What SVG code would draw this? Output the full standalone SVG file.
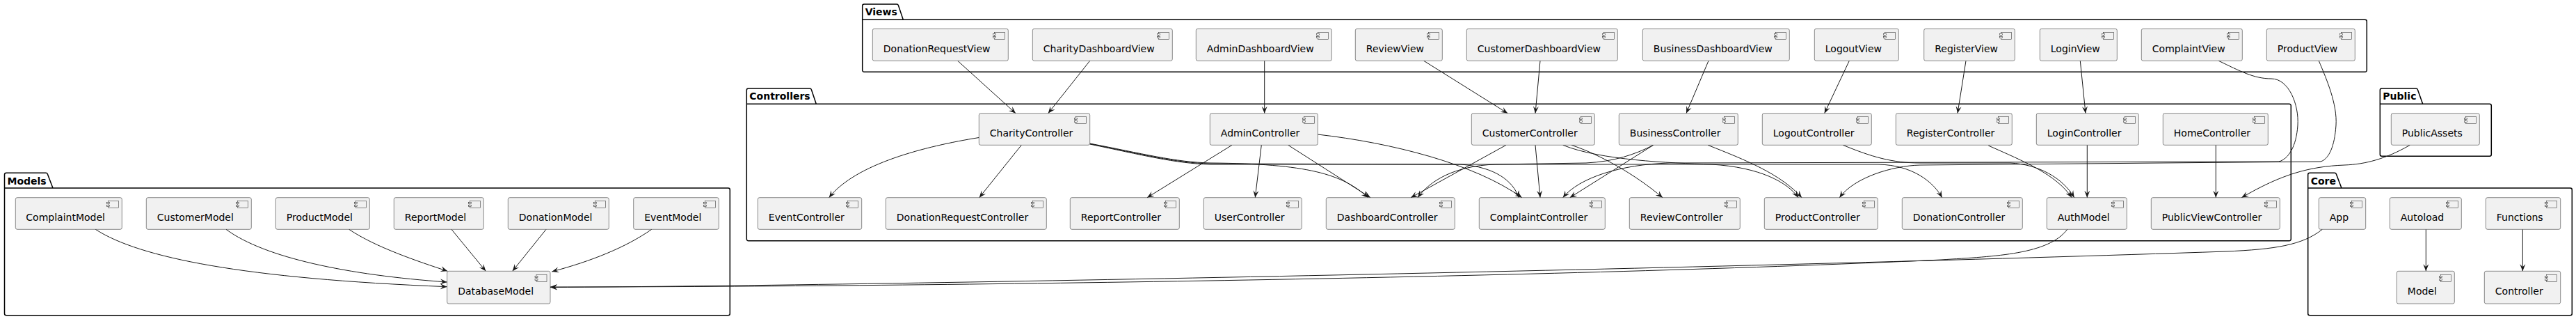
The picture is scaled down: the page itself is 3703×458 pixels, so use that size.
<svg xmlns="http://www.w3.org/2000/svg" width="3703" height="458" viewBox="0 0 3703 458">
<defs>
<style>
.pkg{fill:none;stroke:#000;stroke-width:1.5}
.pl{font-family:"DejaVu Sans",sans-serif;font-size:14px;font-weight:bold;fill:#000}
.n rect{fill:#F1F1F1;stroke:#181818;stroke-width:0.5}
.n text{font-family:"DejaVu Sans",sans-serif;font-size:14px;fill:#000}
.e path{fill:none;stroke:#181818;stroke-width:1}
</style>
<marker id="ah" viewBox="0 0 10 10" refX="10" refY="5" markerWidth="10" markerHeight="10" markerUnits="userSpaceOnUse" orient="auto">
<path d="M0,1 L10,5 L0,9 L4,5 Z" fill="#181818"/>
</marker>
<g id="ic" fill="#F1F1F1" stroke="#181818" stroke-width="0.5"><rect x="-20" y="5" width="15" height="10"/><rect x="-22" y="7" width="4" height="2"/><rect x="-22" y="11" width="4" height="2"/></g>
</defs>
<rect width="3703" height="458" fill="#fff"/>

<!-- packages -->
<g id="pkg-models">
<path class="pkg" d="M6.5,250.8 A2.5,2.5 0 0 1 9,248.3 L66,248.3 A2.5,2.5 0 0 1 68.4,250.1 L76,270 L1046.8,270 A2.5,2.5 0 0 1 1049.3,272.5 L1049.3,450.2 A2.5,2.5 0 0 1 1046.8,452.7 L9,452.7 A2.5,2.5 0 0 1 6.5,450.2 Z M6.5,270 L76,270"/>
<text class="pl" x="10.5" y="264.5">Models</text>
</g>
<g id="pkg-views">
<path class="pkg" d="M1239.7,8.5 A2.5,2.5 0 0 1 1242.2,6 L1289,6 A2.5,2.5 0 0 1 1291.4,7.8 L1298.3,28.3 L3399.8,28.3 A2.5,2.5 0 0 1 3402.3,30.8 L3402.3,100.8 A2.5,2.5 0 0 1 3399.8,103.3 L1242.2,103.3 A2.5,2.5 0 0 1 1239.7,100.8 Z M1239.7,28.3 L1298.3,28.3"/>
<text class="pl" x="1243.7" y="22.3">Views</text>
</g>
<g id="pkg-controllers">
<path class="pkg" d="M1073.3,129.5 A2.5,2.5 0 0 1 1075.8,127 L1164,127 A2.5,2.5 0 0 1 1166.4,128.8 L1173.3,149.3 L3290.8,149.3 A2.5,2.5 0 0 1 3293.3,151.8 L3293.3,343.2 A2.5,2.5 0 0 1 3290.8,345.7 L1075.8,345.7 A2.5,2.5 0 0 1 1073.3,343.2 Z M1073.3,149.3 L1173.3,149.3"/>
<text class="pl" x="1077.3" y="143.3">Controllers</text>
</g>
<g id="pkg-public">
<path class="pkg" d="M3421.3,129.5 A2.5,2.5 0 0 1 3423.8,127 L3473,127 A2.5,2.5 0 0 1 3475.4,128.8 L3482.7,149.3 L3578.8,149.3 A2.5,2.5 0 0 1 3581.3,151.8 L3581.3,221.8 A2.5,2.5 0 0 1 3578.8,224.3 L3423.8,224.3 A2.5,2.5 0 0 1 3421.3,221.8 Z M3421.3,149.3 L3482.7,149.3"/>
<text class="pl" x="3425.3" y="143.3">Public</text>
</g>
<g id="pkg-core">
<path class="pkg" d="M3317.7,250.8 A2.5,2.5 0 0 1 3320.2,248.3 L3356,248.3 A2.5,2.5 0 0 1 3358.4,250.1 L3366,270 L3694.8,270 A2.5,2.5 0 0 1 3697.3,272.5 L3697.3,450.2 A2.5,2.5 0 0 1 3694.8,452.7 L3320.2,452.7 A2.5,2.5 0 0 1 3317.7,450.2 Z M3317.7,270 L3366,270"/>
<text class="pl" x="3321.7" y="264.5">Core</text>
</g>

<!-- connectors -->
<g class="e" id="connectors" marker-end="url(#ah)">
<path d="M1376.7,87.3 L1460,162.7"/>
<path d="M1566.7,87.3 L1506.7,162.7"/>
<path d="M1817.7,87.3 L1817.7,162.7"/>
<path d="M2046.7,87.3 L2167.3,162.7"/>
<path d="M2214,87.3 L2207,162.7"/>
<path d="M2456,87.3 L2424,162.7"/>
<path d="M2658.3,87.3 L2622.7,162.7"/>
<path d="M2826,87.3 L2814,162.7"/>
<path d="M2990.3,87.3 L2998,162.7"/>
<path d="M3189.3,87.3 C3220,102 3240,113 3265,113 C3290,113 3305,150 3303,180 C3301,210 3290,228 3276,232 L2400,234 C2330,236 2270,255 2246.7,283.7"/>
<path d="M3333.3,87.3 C3345,115 3360,150 3358,180 C3356,210 3348,228 3336,232 L2760,237 C2720,238 2665,255 2644.3,283.7"/>
<path d="M1407.3,197.5 C1330,210 1230,235 1191.7,283.7"/>
<path d="M1468.3,208.3 L1407.7,283.7"/>
<path d="M1566.7,206 C1640,220 1690,233 1740,234 C1880,235 1930,250 1966.7,283.7"/>
<path d="M1566.7,206.5 C1640,221 1690,234 1740,235 L2100,236 C2150,240 2175,260 2183.3,283.7"/>
<path d="M1566.7,207 C1640,222 1690,235 1740,236 L2700,236 C2750,237 2780,262 2791.7,283.7"/>
<path d="M1771,208.3 L1649,283.7"/>
<path d="M1813.3,208.3 L1804.3,283.7"/>
<path d="M1851.7,208.3 L1970,283.7"/>
<path d="M1894.3,193 C2000,205 2120,235 2187.7,283.7"/>
<path d="M2165,208.3 L2028,283.7"/>
<path d="M2207,208.3 L2214,283.7"/>
<path d="M2259,208.3 C2300,222 2350,250 2390,283.7"/>
<path d="M2246.7,208.3 C2300,230 2400,234 2460,236 C2530,240 2570,262 2585,283.7"/>
<path d="M2376.7,208.3 C2350,222 2320,232 2280,234 L2150,236 C2090,238 2055,260 2038,283.7"/>
<path d="M2376.7,208.3 L2256.7,283.7"/>
<path d="M2455,208.3 C2510,230 2560,250 2590,283.7"/>
<path d="M2649.3,208.3 C2690,225 2720,234 2760,234 L2890,234 C2930,236 2965,255 2981.7,283.7"/>
<path d="M2858.3,209 C2910,232 2955,250 2978.3,283.7"/>
<path d="M3000.3,208.3 L3000.3,283.7"/>
<path d="M3185.3,208.3 L3185.3,283.7"/>
<path d="M3464.3,208.3 C3430,228 3400,236 3370,237 C3320,239 3280,250 3222.3,283.7"/>
<path d="M2971.7,329.3 C2945,365 2870,368 2790,373 C2200,400 1300,412 791,412"/>
<path d="M3338.3,329.3 C3310,352 3270,358 3200,361 C2500,385 1300,410 791,412.5"/>
<path d="M3487.3,329.3 L3487.3,389.3"/>
<path d="M3626.3,329.3 L3626.3,389.3"/>
<path d="M137.3,329.3 C200,370 350,400 642.7,411.7"/>
<path d="M325,329.3 C380,370 500,395 642.7,405"/>
<path d="M501.7,329.3 C540,355 600,375 643.3,389.3"/>
<path d="M649,329.3 L698.3,389.3"/>
<path d="M785,329.3 L736.7,389.3"/>
<path d="M936.7,329.3 C900,355 850,375 793.3,390"/>
</g>

<!-- nodes: views -->
<g class="n" id="DonationRequestView"><rect x="1254.3" y="41.3" width="195" height="46" rx="2.5"/><use href="#ic" x="1449.3" y="41.3"/><text x="1269.8" y="75">DonationRequestView</text></g>
<g class="n" id="CharityDashboardView"><rect x="1484.3" y="41.3" width="201" height="46" rx="2.5"/><use href="#ic" x="1685.3" y="41.3"/><text x="1499.8" y="75">CharityDashboardView</text></g>
<g class="n" id="AdminDashboardView"><rect x="1719.3" y="41.3" width="195" height="46" rx="2.5"/><use href="#ic" x="1914.3" y="41.3"/><text x="1734.8" y="75">AdminDashboardView</text></g>
<g class="n" id="ReviewView"><rect x="1948.3" y="41.3" width="125" height="46" rx="2.5"/><use href="#ic" x="2073.3" y="41.3"/><text x="1963.8" y="75">ReviewView</text></g>
<g class="n" id="CustomerDashboardView"><rect x="2108.3" y="41.3" width="217" height="46" rx="2.5"/><use href="#ic" x="2325.3" y="41.3"/><text x="2123.8" y="75">CustomerDashboardView</text></g>
<g class="n" id="BusinessDashboardView"><rect x="2361.3" y="41.3" width="211" height="46" rx="2.5"/><use href="#ic" x="2572.3" y="41.3"/><text x="2376.8" y="75">BusinessDashboardView</text></g>
<g class="n" id="LogoutView"><rect x="2608.3" y="41.3" width="121" height="46" rx="2.5"/><use href="#ic" x="2729.3" y="41.3"/><text x="2623.8" y="75">LogoutView</text></g>
<g class="n" id="RegisterView"><rect x="2765.7" y="41.3" width="130.6" height="46" rx="2.5"/><use href="#ic" x="2896.3" y="41.3"/><text x="2781.2" y="75">RegisterView</text></g>
<g class="n" id="LoginView"><rect x="2932.3" y="41.3" width="111" height="46" rx="2.5"/><use href="#ic" x="3043.3" y="41.3"/><text x="2947.8" y="75">LoginView</text></g>
<g class="n" id="ComplaintView"><rect x="3078.3" y="41.3" width="145" height="46" rx="2.5"/><use href="#ic" x="3223.3" y="41.3"/><text x="3093.8" y="75">ComplaintView</text></g>
<g class="n" id="ProductView"><rect x="3258.3" y="41.3" width="127" height="46" rx="2.5"/><use href="#ic" x="3385.3" y="41.3"/><text x="3273.8" y="75">ProductView</text></g>

<!-- controllers row 1 -->
<g class="n" id="CharityController"><rect x="1407.3" y="162.7" width="159.4" height="45.6" rx="2.5"/><use href="#ic" x="1566.7" y="162.7"/><text x="1422.8" y="196.3">CharityController</text></g>
<g class="n" id="AdminController"><rect x="1739.3" y="162.7" width="155" height="45.6" rx="2.5"/><use href="#ic" x="1894.3" y="162.7"/><text x="1754.8" y="196.3">AdminController</text></g>
<g class="n" id="CustomerController"><rect x="2115.3" y="162.7" width="177" height="45.6" rx="2.5"/><use href="#ic" x="2292.3" y="162.7"/><text x="2130.8" y="196.3">CustomerController</text></g>
<g class="n" id="BusinessController"><rect x="2327.3" y="162.7" width="171" height="45.6" rx="2.5"/><use href="#ic" x="2498.3" y="162.7"/><text x="2342.8" y="196.3">BusinessController</text></g>
<g class="n" id="LogoutController"><rect x="2533.3" y="162.7" width="157" height="45.6" rx="2.5"/><use href="#ic" x="2690.3" y="162.7"/><text x="2548.8" y="196.3">LogoutController</text></g>
<g class="n" id="RegisterController"><rect x="2725.3" y="162.7" width="167" height="45.6" rx="2.5"/><use href="#ic" x="2892.3" y="162.7"/><text x="2740.8" y="196.3">RegisterController</text></g>
<g class="n" id="LoginController"><rect x="2927.3" y="162.7" width="147" height="45.6" rx="2.5"/><use href="#ic" x="3074.3" y="162.7"/><text x="2942.8" y="196.3">LoginController</text></g>
<g class="n" id="HomeController"><rect x="3109.3" y="162.7" width="151" height="45.6" rx="2.5"/><use href="#ic" x="3260.3" y="162.7"/><text x="3124.8" y="196.3">HomeController</text></g>
<g class="n" id="PublicAssets"><rect x="3437.3" y="162.7" width="127" height="45.6" rx="2.5"/><use href="#ic" x="3564.3" y="162.7"/><text x="3452.8" y="196.3">PublicAssets</text></g>

<!-- row 2 -->
<g class="n" id="ComplaintModel"><rect x="22.3" y="283.7" width="153" height="45.6" rx="2.5"/><use href="#ic" x="175.3" y="283.7"/><text x="37.3" y="317.3">ComplaintModel</text></g>
<g class="n" id="CustomerModel"><rect x="210.3" y="283.7" width="151" height="45.6" rx="2.5"/><use href="#ic" x="361.3" y="283.7"/><text x="225.8" y="317.3">CustomerModel</text></g>
<g class="n" id="ProductModel"><rect x="396.3" y="283.7" width="135" height="45.6" rx="2.5"/><use href="#ic" x="531.3" y="283.7"/><text x="411.8" y="317.3">ProductModel</text></g>
<g class="n" id="ReportModel"><rect x="566.3" y="283.7" width="129" height="45.6" rx="2.5"/><use href="#ic" x="695.3" y="283.7"/><text x="581.8" y="317.3">ReportModel</text></g>
<g class="n" id="DonationModel"><rect x="730.3" y="283.7" width="145" height="45.6" rx="2.5"/><use href="#ic" x="875.3" y="283.7"/><text x="745.8" y="317.3">DonationModel</text></g>
<g class="n" id="EventModel"><rect x="910.7" y="283.7" width="122.6" height="45.6" rx="2.5"/><use href="#ic" x="1033.3" y="283.7"/><text x="926.2" y="317.3">EventModel</text></g>
<g class="n" id="EventController"><rect x="1089.3" y="283.7" width="149.4" height="45.6" rx="2.5"/><use href="#ic" x="1238.7" y="283.7"/><text x="1104.8" y="317.3">EventController</text></g>
<g class="n" id="DonationRequestController"><rect x="1273.3" y="283.7" width="231" height="45.6" rx="2.5"/><use href="#ic" x="1504.3" y="283.7"/><text x="1288.8" y="317.3">DonationRequestController</text></g>
<g class="n" id="ReportController"><rect x="1538.3" y="283.7" width="157" height="45.6" rx="2.5"/><use href="#ic" x="1695.3" y="283.7"/><text x="1553.8" y="317.3">ReportController</text></g>
<g class="n" id="UserController"><rect x="1730.3" y="283.7" width="141" height="45.6" rx="2.5"/><use href="#ic" x="1871.3" y="283.7"/><text x="1745.8" y="317.3">UserController</text></g>
<g class="n" id="DashboardController"><rect x="1906.3" y="283.7" width="185" height="45.6" rx="2.5"/><use href="#ic" x="2091.3" y="283.7"/><text x="1921.8" y="317.3">DashboardController</text></g>
<g class="n" id="ComplaintController"><rect x="2126.3" y="283.7" width="181" height="45.6" rx="2.5"/><use href="#ic" x="2307.3" y="283.7"/><text x="2141.8" y="317.3">ComplaintController</text></g>
<g class="n" id="ReviewController"><rect x="2342.3" y="283.7" width="159" height="45.6" rx="2.5"/><use href="#ic" x="2501.3" y="283.7"/><text x="2357.8" y="317.3">ReviewController</text></g>
<g class="n" id="ProductController"><rect x="2536.3" y="283.7" width="163" height="45.6" rx="2.5"/><use href="#ic" x="2699.3" y="283.7"/><text x="2551.8" y="317.3">ProductController</text></g>
<g class="n" id="DonationController"><rect x="2734.3" y="283.7" width="173" height="45.6" rx="2.5"/><use href="#ic" x="2907.3" y="283.7"/><text x="2749.8" y="317.3">DonationController</text></g>
<g class="n" id="AuthModel"><rect x="2942.3" y="283.7" width="115" height="45.6" rx="2.5"/><use href="#ic" x="3057.3" y="283.7"/><text x="2957.8" y="317.3">AuthModel</text></g>
<g class="n" id="PublicViewController"><rect x="3092.3" y="283.7" width="185" height="45.6" rx="2.5"/><use href="#ic" x="3277.3" y="283.7"/><text x="3107.8" y="317.3">PublicViewController</text></g>
<g class="n" id="App"><rect x="3333.3" y="283.7" width="67.4" height="45.6" rx="2.5"/><use href="#ic" x="3400.7" y="283.7"/><text x="3348.8" y="317.3">App</text></g>
<g class="n" id="Autoload"><rect x="3435.3" y="283.7" width="103" height="45.6" rx="2.5"/><use href="#ic" x="3538.3" y="283.7"/><text x="3450.8" y="317.3">Autoload</text></g>
<g class="n" id="Functions"><rect x="3573.3" y="283.7" width="107.4" height="45.6" rx="2.5"/><use href="#ic" x="3680.7" y="283.7"/><text x="3588.8" y="317.3">Functions</text></g>

<!-- row 3 -->
<g class="n" id="DatabaseModel"><rect x="642.7" y="389.3" width="148.3" height="46.7" rx="2.5"/><use href="#ic" x="791" y="389.3"/><text x="658.2" y="423">DatabaseModel</text></g>
<g class="n" id="Model"><rect x="3445.3" y="389.3" width="83" height="46.7" rx="2.5"/><use href="#ic" x="3528.3" y="389.3"/><text x="3460.8" y="423">Model</text></g>
<g class="n" id="Controller"><rect x="3571.3" y="389.3" width="109.4" height="46.7" rx="2.5"/><use href="#ic" x="3680.7" y="389.3"/><text x="3586.8" y="423">Controller</text></g>
</svg>
